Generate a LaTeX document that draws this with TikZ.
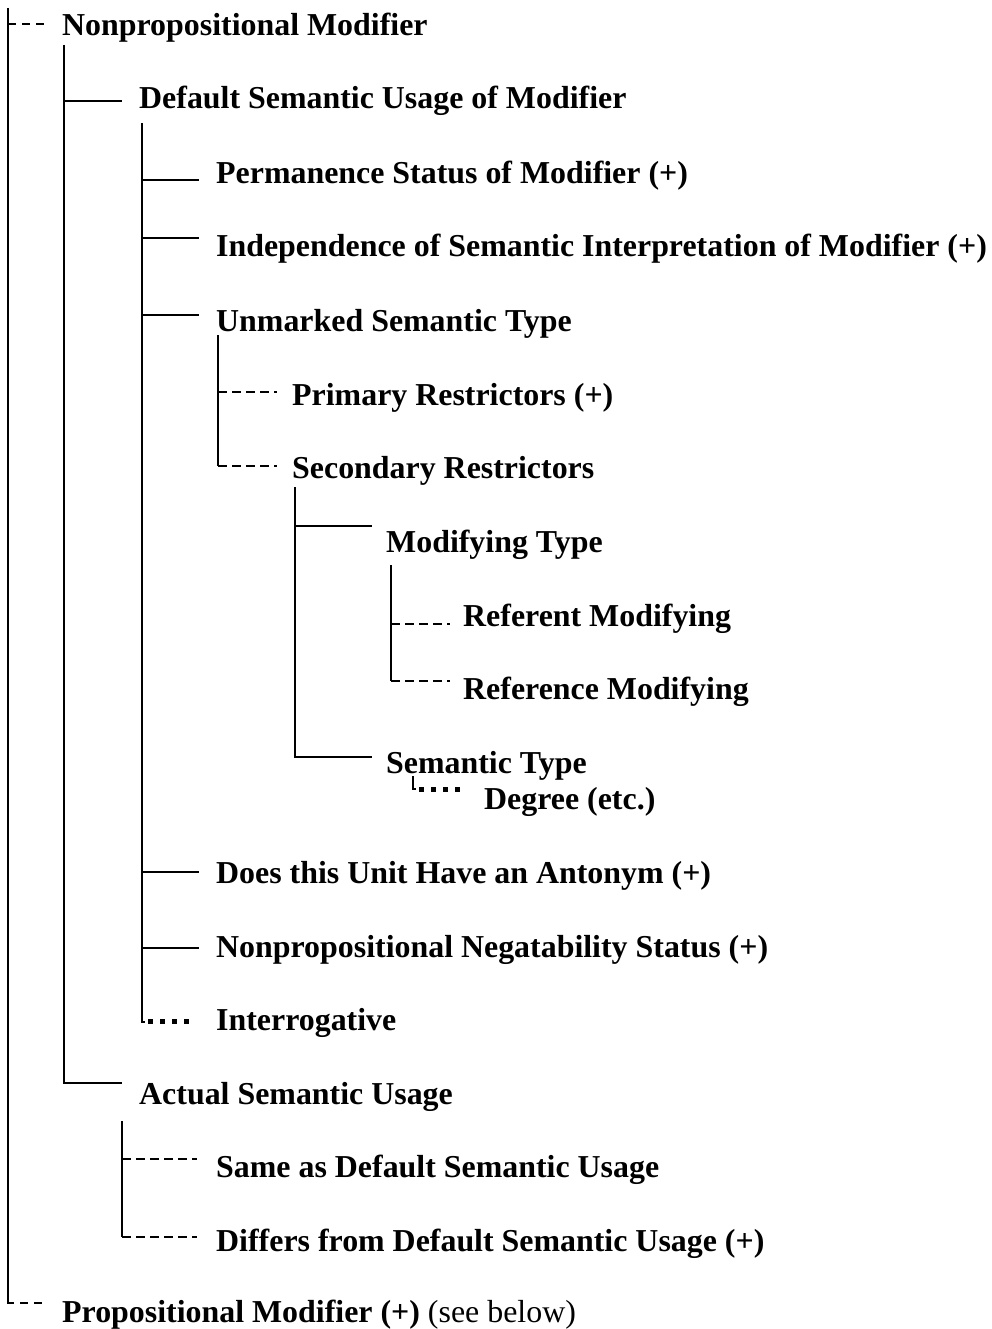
\documentclass[tikz,border=0pt]{standalone}
\usepackage{fontspec}
\setmainfont{Liberation Serif}
\begin{document}
\begin{tikzpicture}[x=1pt,y=-1pt]
\tikzset{
  lbl/.style={anchor=base west, inner sep=0pt, font=\bfseries\fontsize{31.9}{36}\selectfont},
  tree/.style={line width=1.6pt},
  dashtop/.style={line width=1.6pt, dash pattern=on 8pt off 6pt},
  dashsub/.style={line width=1.5pt, dash pattern=on 9pt off 5pt},
  dotsub/.style={line width=5pt, dash pattern=on 5pt off 7pt},
}
\useasboundingbox (0,0) rectangle (992,1329);

% labels
\node[lbl] (nonprop)   at (62,36)    {Nonpropositional Modifier};
\node[lbl] (default)   at (139,109)  {Default Semantic Usage of Modifier};
\node[lbl] (perm)      at (216,184)  {Permanence Status of Modifier (+)};
\node[lbl] (indep)     at (216,257)  {Independence of Semantic Interpretation of Modifier (+)};
\node[lbl] (unmarked)  at (216,331)  {Unmarked Semantic Type};
\node[lbl] (primary)   at (292,405)  {Primary Restrictors (+)};
\node[lbl] (secondary) at (292,478)  {Secondary Restrictors};
\node[lbl] (modtype)   at (386,552)  {Modifying Type};
\node[lbl] (referent)  at (463,626)  {Referent Modifying};
\node[lbl] (reference) at (463,699)  {Reference Modifying};
\node[lbl] (semtype)   at (386,773)  {Semantic Type};
\node[lbl] (degree)    at (484,809)  {Degree (etc.)};
\node[lbl] (antonym)   at (216,883)  {Does this Unit Have an Antonym (+)};
\node[lbl] (negat)     at (216,957)  {Nonpropositional Negatability Status (+)};
\node[lbl] (interrog)  at (216,1030) {Interrogative};
\node[lbl] (actual)    at (139,1104) {Actual Semantic Usage};
\node[lbl] (same)      at (216,1177) {Same as Default Semantic Usage};
\node[lbl] (differs)   at (216,1251) {Differs from Default Semantic Usage (+)};
\node[lbl] (prop)      at (62,1322)  {Propositional Modifier (+) \mdseries(see below)};

% top level
\coordinate (t0)  at (8,8);
\coordinate (e0a) at (45,24);
\coordinate (e0b) at (45,1303);
\draw[tree] (t0) -- (t0 |- e0b) -- ++(6,0);
\draw[dashtop] (t0 |- e0a) -- (e0a);
\draw[dashtop] ([xshift=6pt]t0 |- e0b) ++(6,0) -- (e0b);

% under Nonpropositional Modifier
\coordinate (t1)  at (64,45);
\coordinate (e1a) at (122,101);
\coordinate (e1b) at (122,1083);
\draw[tree] (t1) |- (e1b);
\draw[tree] (t1 |- e1a) -- (e1a);

% under Default Semantic Usage of Modifier
\coordinate (t2)  at (142,123);
\coordinate (e2a) at (199,180);
\coordinate (e2b) at (199,238);
\coordinate (e2c) at (199,315);
\coordinate (e2d) at (199,872);
\coordinate (e2e) at (199,948);
\coordinate (e2f) at (194,1021);
\draw[tree] (t2) -- ([yshift=-1pt]t2 |- e2f) -- ++(3,0);
\foreach \e in {e2a,e2b,e2c,e2d,e2e}
  \draw[tree] (t2 |- \e) -- (\e);
\draw[dotsub] ([xshift=6pt]t2 |- e2f) -- (e2f);

% under Unmarked Semantic Type
\coordinate (t3)  at (218,335);
\coordinate (e3a) at (277,392);
\coordinate (e3b) at (277,466);
\draw[tree] (t3) -- (t3 |- e3b);
\draw[dashsub] (t3 |- e3a) -- (e3a);
\draw[dashsub] (t3 |- e3b) -- (e3b);

% under Secondary Restrictors
\coordinate (t4)  at (295,487);
\coordinate (e4a) at (372,526);
\coordinate (e4b) at (372,757);
\draw[tree] (t4) |- (e4b);
\draw[tree] (t4 |- e4a) -- (e4a);

% under Modifying Type
\coordinate (t5)  at (391,565);
\coordinate (e5a) at (450,624);
\coordinate (e5b) at (450,681);
\draw[tree] (t5) -- (t5 |- e5b);
\draw[dashsub] (t5 |- e5a) -- (e5a);
\draw[dashsub] (t5 |- e5b) -- (e5b);

% under Semantic Type
\coordinate (t6)  at (413,776);
\coordinate (e6a) at (462,789);
\draw[line width=1.4pt] (t6) -- (t6 |- e6a) -- ++(3,0);
\draw[dotsub] ([xshift=6pt]t6 |- e6a) -- (e6a);

% under Actual Semantic Usage
\coordinate (t7)  at (122,1121);
\coordinate (e7a) at (197,1159);
\coordinate (e7b) at (197,1237);
\draw[tree] (t7) -- (t7 |- e7b);
\draw[dashsub] (t7 |- e7a) -- (e7a);
\draw[dashsub] (t7 |- e7b) -- (e7b);
\end{tikzpicture}
\end{document}
